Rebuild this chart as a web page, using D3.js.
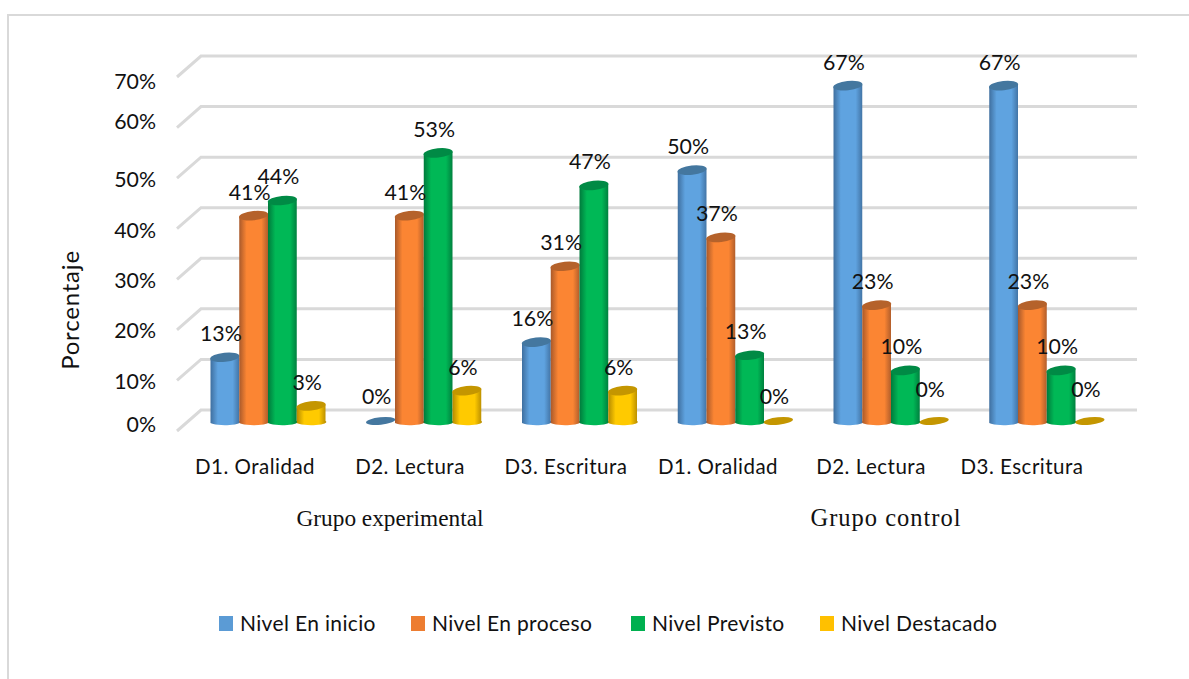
<!DOCTYPE html>
<html><head><meta charset="utf-8">
<script src="https://cdn.jsdelivr.net/npm/d3@7/dist/d3.min.js"></script>
<style>html,body{margin:0;padding:0;background:#fff}svg{display:block}</style></head>
<body><div id="chart"></div>
<script>
const categories=["D1. Oralidad","D2. Lectura","D3. Escritura","D1. Oralidad","D2. Lectura","D3. Escritura"];
const groupLabels=["Grupo experimental","Grupo control"];
const seriesNames=["Nivel En inicio","Nivel En proceso","Nivel Previsto","Nivel Destacado"];
const enInicio=[13,0,16,50,66.7,66.7];
const enProceso=[41,41,31,36.7,23.3,23.3];
const previsto=[44,53.4,47,13.4,10.4,10.4];
const destacado=[3.4,6.4,6.4,0,0,0];
const yTicks=[0,10,20,30,40,50,60,70];
const tickLabelY=[424,381,330,280,230,179,121,81];
const series=[enInicio,enProceso,previsto,destacado];
const legendColors=["#5b9bd5","#ed7d31","#00b050","#ffc000"];
const mid=["#5fa3e0","#fb8533","#00b856","#ffca00"];
const dark=["#3f6f9f","#a9592a","#007a3c","#b58a00"];
const top_=["#44779f","#b5622b","#008a45","#c49600"];
const W=1189,H=679;
const svg=d3.select("#chart").append("svg").attr("width",W).attr("height",H);
const font="Lato,'Open Sans',sans-serif";
const ink="#111";
svg.append("path").attr("d","M8,679L8,15L1189,15").attr("fill","none").attr("stroke","#d9d9d9").attr("stroke-width",2);
const defs=svg.append("defs");
series.forEach((_,i)=>{
  const g=defs.append("linearGradient").attr("id","g"+i);
  g.append("stop").attr("offset","0%").attr("stop-color",dark[i]);
  g.append("stop").attr("offset","25%").attr("stop-color",mid[i]);
  g.append("stop").attr("offset","75%").attr("stop-color",mid[i]);
  g.append("stop").attr("offset","100%").attr("stop-color",dark[i]);
});
const y=d3.scaleLinear().domain([0,70]).range([424,70]);
const backY=d3.scaleLinear().domain([0,70]).range([410,56]);
const frontY=d3.scaleLinear().domain([0,70]).range([431,77]);
const x0=d3.scaleBand().domain(d3.range(6)).range([181,1115.5]);
const x1=d3.scaleBand().domain(d3.range(4)).range([29.5,144.5]);
const grid=svg.append("g").attr("stroke","#d9d9d9").attr("stroke-width",3).attr("fill","none");
yTicks.forEach(t=>{
  grid.append("path").attr("d",`M177,${frontY(t)}L201,${backY(t)}L1137,${backY(t)}`);
});
svg.append("g").selectAll("text").data(yTicks).join("text")
  .attr("x",156).attr("y",(d,i)=>tickLabelY[i]+8).attr("text-anchor","end")
  .attr("font-family",font).attr("font-size",21.3).attr("fill",ink).text(d=>d+"%");
svg.append("text").attr("transform","translate(79,310) rotate(-90)").attr("text-anchor","middle")
  .attr("font-family",font).attr("font-size",24).attr("letter-spacing",0.8).attr("fill",ink).text("Porcentaje");
const plot=svg.append("g");
categories.forEach((c,ci)=>{
  const gx=x0(ci);
  series.forEach((s,si)=>{
    const v=s[ci];
    const bx=gx+x1(si), w=x1.bandwidth(), cx=bx+w/2;
    const yt=y(v), yb=y(0);
    const g=plot.append("g");
    if(v>0){
      g.append("path").attr("d",`M${bx},${yt}L${bx},${yb-1}A${w/2},3 0 0 0 ${bx+w},${yb-3}L${bx+w},${yt-2}Z`).attr("fill",`url(#g${si})`);
    }
    const cy=v>0?yt-1:yt-3;
    g.append("ellipse").attr("cx",cx).attr("cy",cy).attr("rx",w/2+.3).attr("ry",v>0?4.6:3.8)
      .attr("transform",`rotate(-6 ${cx} ${cy})`).attr("fill",top_[si]);
  });
});
const lab=svg.append("g").attr("font-family",font).attr("font-size",21.3).attr("fill",ink).attr("text-anchor","middle");
categories.forEach((c,ci)=>{
  series.forEach((s,si)=>{
    const v=s[ci];
    const cx=x0(ci)+x1(si)+x1.bandwidth()/2;
    const lift=(v===0&&ci>3)?27:(v===0?20:17);
    lab.append("text").attr("x",cx-4).attr("y",y(v)-lift).text(Math.round(v)+"%");
  });
});
const catX=[255,410,566,718,871,1022];
svg.append("g").selectAll("text").data(categories).join("text")
  .attr("x",(d,i)=>catX[i]).attr("y",474).attr("text-anchor","middle")
  .attr("font-family",font).attr("font-size",20.5).attr("letter-spacing",0.5).attr("fill",ink).text(d=>d);
const gx=[390,886];
svg.append("g").selectAll("text").data(groupLabels).join("text")
  .attr("x",(d,i)=>gx[i]).attr("y",526).attr("text-anchor","middle")
  .attr("font-family","'Liberation Serif',serif").attr("font-size",(d,i)=>i?24.5:23.3)
  .attr("letter-spacing",(d,i)=>i?1:0).attr("fill",ink).text(d=>d);
const lx=[219,411,631,820];
const leg=svg.append("g");
seriesNames.forEach((n,i)=>{
  leg.append("rect").attr("x",lx[i]).attr("y",616).attr("width",14).attr("height",15).attr("fill",legendColors[i]);
  leg.append("text").attr("x",lx[i]+21).attr("y",631).attr("font-family",font).attr("font-size",21).attr("letter-spacing",0.35).attr("fill",ink).text(n);
});
</script></body></html>
